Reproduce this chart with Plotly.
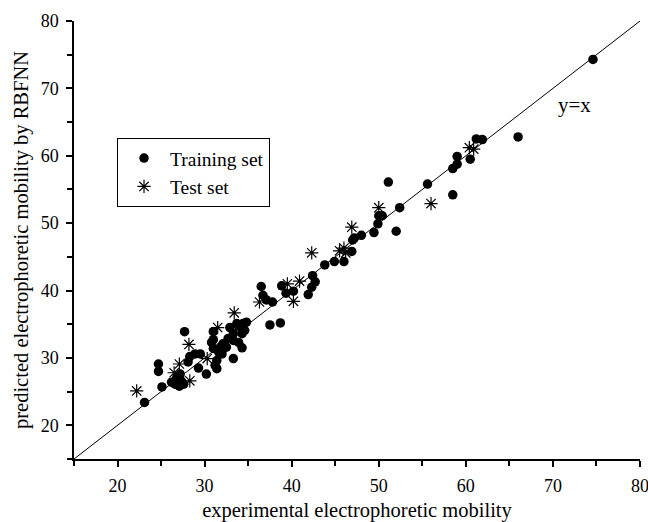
import plotly.graph_objects as go

train_x = [23.1, 24.7, 24.7, 25.1, 26.2, 26.6, 26.8, 27.2, 27.1, 27.4, 27.6, 27.2, 27.7, 28.1, 28.3,
           28.9, 29.5, 29.3, 30.2, 31.0, 31.0, 30.8, 31.0, 31.6, 31.4, 31.2, 31.4, 32.0, 32.1, 31.8,
           32.5, 32.9, 33.3, 32.7, 33.3, 33.9, 33.7, 33.9, 34.4, 34.8, 34.6, 34.3, 34.3, 33.3, 36.5,
           36.7, 37.1, 37.8, 37.5, 38.7, 38.85, 39.35, 40.2, 41.9, 42.3, 42.7, 42.4, 43.8, 44.9, 46.0,
           46.9, 47.0, 47.2, 48.0, 49.45, 49.9, 50.0, 50.4, 51.1, 52.0, 52.4, 55.6, 58.5, 58.5, 59.0,
           59.0, 60.5, 61.2, 61.9, 66.0, 74.6]
train_y = [23.4, 29.1, 28.0, 25.7, 26.4, 26.1, 27.1, 27.6, 25.8, 26.4, 26.1, 26.8, 33.9, 29.4, 30.2,
           30.6, 30.6, 28.5, 27.6, 33.9, 32.7, 32.3, 31.4, 30.9, 29.6, 28.9, 28.4, 30.6, 32.1, 31.6,
           31.6, 34.5, 33.6, 32.9, 32.6, 32.3, 35.1, 34.7, 35.1, 35.3, 34.1, 33.6, 31.5, 29.9, 40.6,
           39.3, 38.6, 38.3, 34.9, 35.2, 40.7, 39.6, 39.9, 39.4, 40.5, 41.3, 42.2, 43.8, 44.3, 44.3,
           45.8, 47.5, 47.8, 48.2, 48.6, 49.9, 51.1, 51.1, 56.1, 48.8, 52.3, 55.8, 54.2, 58.1, 58.75,
           59.9, 59.5, 62.5, 62.4, 62.8, 74.3]

test_x = [22.2, 26.5, 27.1, 28.2, 28.3, 30.3, 31.5, 33.4, 36.3, 39.5, 40.2, 40.9, 42.3, 45.5, 46.0,
          46.2, 46.9, 50.0, 56.0, 60.4, 60.9]
test_y = [25.1, 27.8, 29.1, 32.0, 26.6, 29.9, 34.5, 36.7, 38.3, 41.0, 38.4, 41.4, 45.6, 45.9, 46.3,
          45.6, 49.4, 52.3, 52.9, 61.2, 61.0]

diag = [15, 80]
x_ticks = [20, 30, 40, 50, 60, 70, 80]
y_ticks = [20, 30, 40, 50, 60, 70, 80]

font = "Liberation Serif, Times New Roman, serif"

fig = go.Figure()
fig.add_trace(go.Scatter(x=diag, y=diag, mode="lines", line=dict(color="black", width=1),
                         showlegend=False, hoverinfo="skip", cliponaxis=False))
fig.add_trace(go.Scatter(x=train_x, y=train_y, mode="markers", name="Training set",
                         marker=dict(symbol="circle", size=9.5, color="black")))
fig.add_trace(go.Scatter(x=test_x, y=test_y, mode="markers", name="Test set",
                         marker=dict(symbol="asterisk-open", size=11,
                                     line=dict(width=1.2, color="black"), color="black")))

fig.add_annotation(x=70.4, y=67.5, text="y=x", showarrow=False, xanchor="left", yanchor="middle",
                   font=dict(family=font, size=21, color="black"))

axis_common = dict(range=[15, 80], showgrid=False, zeroline=False, showline=True,
                   linecolor="black", linewidth=1.5, ticks="outside", ticklen=6, tickwidth=1.5,
                   tickcolor="black", tickfont=dict(family=font, size=18, color="black"),
                   minor=dict(dtick=5, ticks="outside", ticklen=5, tickwidth=1.5, tickcolor="black"),
                   mirror=False, automargin=False, ticklabelstandoff=4,
                   ticklabeloverflow="allow")

fig.update_layout(
    width=648, height=522,
    margin=dict(l=74, r=8, t=21, b=63),
    paper_bgcolor="white", plot_bgcolor="white",
    font=dict(family=font, color="black"),
    xaxis=dict(**axis_common, tickvals=x_ticks,
               title=dict(text="experimental electrophoretic mobility",
                          font=dict(family=font, size=20.5, color="black"), standoff=8)),
    yaxis=dict(**axis_common, tickvals=y_ticks,
               title=dict(text="predicted electrophoretic mobility by RBFNN",
                          font=dict(family=font, size=20.5, color="black"), standoff=6)),
    legend=dict(x=0.076, y=0.733, xanchor="left", yanchor="top",
                bordercolor="black", borderwidth=1, bgcolor="white",
                font=dict(family=font, size=19.5, color="black"),
                itemwidth=42, tracegroupgap=0),
)

fig.write_html("out.html", config={"displayModeBar": False},
               post_script="document.body.style.margin='0';document.body.style.overflow='hidden';")
